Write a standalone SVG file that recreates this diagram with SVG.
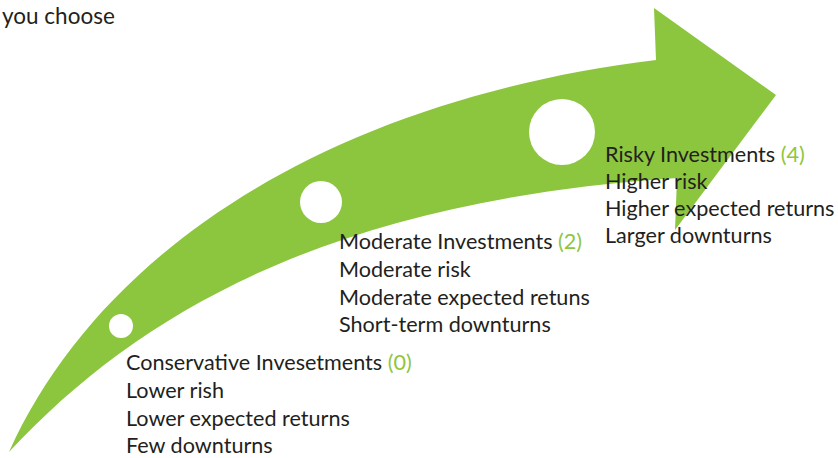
<svg xmlns="http://www.w3.org/2000/svg" width="838" height="458" viewBox="0 0 838 458">
  <style>
    .lbl { font-family: Lato, "Open Sans", "Liberation Sans", sans-serif; font-size: 21.6px; fill: #231f20; }
    .num { fill: #8dc63f; }
    .dot { fill: #ffffff; }
  </style>
  <rect width="838" height="458" fill="#ffffff"/>

  <!-- curved growth arrow -->
  <g id="arrow">
    <path d="M 9,452 C 100,250 330,100 656,60 L 654,8 L 776,95 L 675,230 L 677,178 C 350,200 150,300 9,452 Z" fill="#8cc63f"/>
  </g>

  <text class="lbl" x="2" y="24" style="font-size:22.5px">you choose</text>

  <g id="conservative">
    <circle class="dot" cx="121" cy="326" r="12"/>
    <text class="lbl" x="126" y="370">Conservative Invesetments <tspan class="num">(0)</tspan></text>
    <text class="lbl" x="126" y="398">Lower rish</text>
    <text class="lbl" x="126" y="426">Lower expected returns</text>
    <text class="lbl" x="126" y="453">Few downturns</text>
  </g>

  <g id="moderate">
    <circle class="dot" cx="321" cy="202" r="21"/>
    <text class="lbl" x="339" y="249">Moderate Investments <tspan class="num">(2)</tspan></text>
    <text class="lbl" x="339" y="277">Moderate risk</text>
    <text class="lbl" x="339" y="305">Moderate expected retuns</text>
    <text class="lbl" x="339" y="332">Short-term downturns</text>
  </g>

  <g id="risky">
    <circle class="dot" cx="562" cy="132" r="33"/>
    <text class="lbl" x="605" y="162">Risky Investments <tspan class="num">(4)</tspan></text>
    <text class="lbl" x="605" y="189">Higher risk</text>
    <text class="lbl" x="605" y="216">Higher expected returns</text>
    <text class="lbl" x="605" y="243">Larger downturns</text>
  </g>
</svg>
